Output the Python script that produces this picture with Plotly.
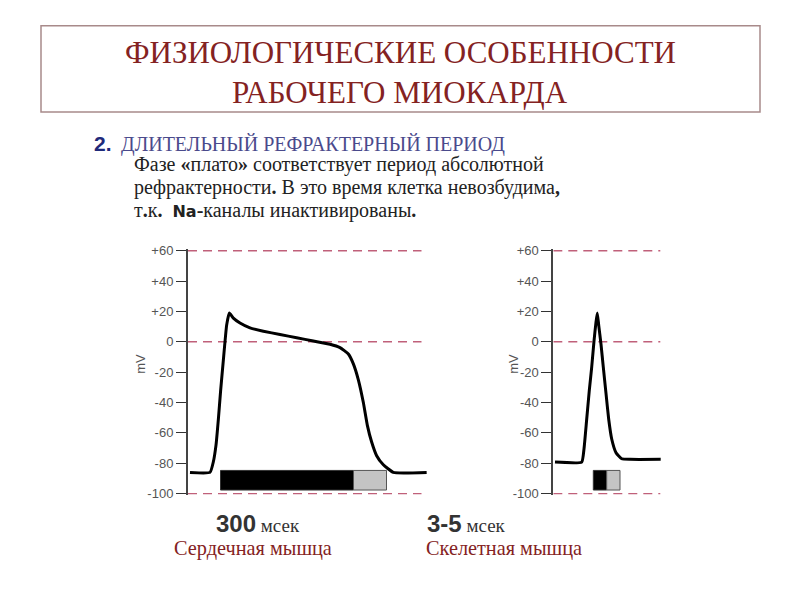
import plotly.graph_objects as go

# ---- data ----
# Cardiac action potential (time in ms, membrane potential in mV)
cardiac_t = [4, 44, 50.7, 56, 60.7, 65.3, 70.7, 77.3, 82.7, 90.7, 104, 124, 150.7, 184, 217.3, 250.7, 284, 304,
             320.7, 330.7, 340.7, 350.7, 358.7, 367.3, 377.3, 390.7, 410.7, 477.3]
cardiac_v = [-86, -86, -79, -68, -51, -32, -12, 11, 19, 15.6, 12.4, 9.2, 7, 4.8, 2.7, 0.5, -1.6, -3.8,
             -8, -14.5, -25, -40, -55, -66, -75, -81, -86, -86]
# Skeletal action potential (time in ms)
skeletal_t = [0.17, 2.84, 3.07, 3.34, 3.6, 3.84, 4.07, 4.27, 4.4, 4.54, 4.77, 5.0, 5.27, 5.54, 5.84, 6.27, 6.84, 7.67, 10.74]
skeletal_v = [-79.2, -79.2, -70.5, -51, -32, -16.7, 0.5, 13, 19, 11, -1.6, -16.7, -34, -51, -64, -73, -77, -77.4, -77.4]
# refractory periods: [start, end] absolute (black) / relative (gray)
cardiac_abs = [65, 331]
cardiac_rel = [331, 397]
skeletal_abs = [4.0, 5.34]
skeletal_rel = [5.34, 6.67]
bar_v = [-97.6, -84.7]
ref_levels = [60, 0, -100]
cardiac_ref_t = [0, 467]
skeletal_ref_t = [0, 10.7]
tick_vals = [60, 40, 20, 0, -20, -40, -60, -80, -100]
tick_text = ["+60", "+40", "+20", "0", "-20", "-40", "-60", "-80", "-100"]

SERIF = "Liberation Serif, Times New Roman, DejaVu Serif, serif"
SANS = "Liberation Sans, Arial, sans-serif"
DARKRED = "#842222"
OFF = 8  # page body margin

fig = go.Figure()

def add_chart(fig, xa, ya, t, v, ref_t):
    for lv in ref_levels:
        fig.add_trace(go.Scatter(x=ref_t, y=[lv, lv], mode="lines", xaxis=xa, yaxis=ya,
                                 line=dict(color="#c0607a", width=1.4, dash="9px,6px"),
                                 hoverinfo="skip", showlegend=False))
    fig.add_trace(go.Scatter(x=t, y=v, mode="lines", xaxis=xa, yaxis=ya,
                             line=dict(color="black", width=3, shape="spline", smoothing=0.4),
                             showlegend=False))

add_chart(fig, "x", "y", cardiac_t, cardiac_v, cardiac_ref_t)
add_chart(fig, "x2", "y2", skeletal_t, skeletal_v, skeletal_ref_t)

def PX(px):
    return (px - OFF) / 800

def PY(py):
    return 1 - (py - OFF) / 600

shapes = []
for xr, yr, abs_, rel in [("x", "y", cardiac_abs, cardiac_rel), ("x2", "y2", skeletal_abs, skeletal_rel)]:
    shapes.append(dict(type="rect", xref=xr, yref=yr, x0=abs_[0], x1=abs_[1], y0=bar_v[0], y1=bar_v[1],
                       fillcolor="black", line=dict(color="#333", width=1)))
    shapes.append(dict(type="rect", xref=xr, yref=yr, x0=rel[0], x1=rel[1], y0=bar_v[0], y1=bar_v[1],
                       fillcolor="#c4c4c4", line=dict(color="#555", width=1)))
# title box
shapes.append(dict(type="rect", xref="paper", yref="paper", x0=PX(41), x1=PX(760), y0=PY(108), y1=PY(20),
                   line=dict(color="#a88a8a", width=1.5), fillcolor="rgba(0,0,0,0)"))

yax = dict(range=[-101, 61], tickvals=tick_vals, ticktext=tick_text, showline=True, linecolor="#444",
           linewidth=2, ticks="outside", ticklen=10, tickcolor="#333", tickwidth=1.3, showgrid=False,
           zeroline=False, tickfont=dict(family=SANS, size=13, color="#555"),
           domain=[PY(499), PY(248)])

anns = []
def ann(text, px, py, size, color, family=SERIF, xanchor="center", angle=0):
    anns.append(dict(text=text, x=PX(px), y=PY(py), xref="paper", yref="paper", showarrow=False,
                     xanchor=xanchor, yanchor="middle", textangle=angle,
                     font=dict(family=family, size=size, color=color)))

NA = "<span style='font-family:DejaVu Sans;font-size:16px'><b>Na</b></span>"
ann("ФИЗИОЛОГИЧЕСКИЕ ОСОБЕННОСТИ", 400, 47, 31, DARKRED)
ann("РАБОЧЕГО МИОКАРДА", 400, 88, 31, DARKRED)
ann("<b>2.</b>", 92, 140, 21, "#1f2a7a", family=SANS, xanchor="left")
ann("ДЛИТЕЛЬНЫЙ РЕФРАКТЕРНЫЙ ПЕРИОД", 119, 141, 20, "#4a4a8c", xanchor="left")
ann("Фазе <b>«</b>плато<b>»</b> соответствует период абсолютной", 132, 162, 20, "#222", xanchor="left")
ann("рефрактерности<b>.</b> В это время клетка невозбудима<b>,</b>", 132, 185, 20, "#222", xanchor="left")
ann("т<b>.</b>к<b>.</b>  " + NA + "<b>-</b>каналы инактивированы<b>.</b>", 132, 209, 20, "#222", xanchor="left")
ann("mV", 141, 365, 13, "#555", family=SANS, angle=-90)
ann("mV", 514, 365, 13, "#555", family=SANS, angle=-90)
ann("<span style='font-family:Liberation Sans;font-size:24px'><b>300</b></span> мсек", 258, 528, 19, "#333")
ann("<span style='font-family:Liberation Sans;font-size:24px'><b>3-5</b></span> мсек", 466, 528, 19, "#333")
ann("Сердечная мышца", 253, 553, 20.3, DARKRED)
ann("Скелетная мышца", 504, 553, 20.3, DARKRED)

fig.update_layout(
    width=800, height=600, margin=dict(l=0, r=0, t=0, b=0),
    paper_bgcolor="white", plot_bgcolor="white", showlegend=False,
    xaxis=dict(domain=[PX(188), PX(430)], range=[0, 484], visible=False),
    xaxis2=dict(domain=[PX(553.3), PX(662.3)], range=[0, 10.9], visible=False, anchor="y2"),
    yaxis=dict(**yax, anchor="x"),
    yaxis2=dict(**yax, anchor="x2"),
    shapes=shapes, annotations=anns,
)

fig.write_html("out.html")
